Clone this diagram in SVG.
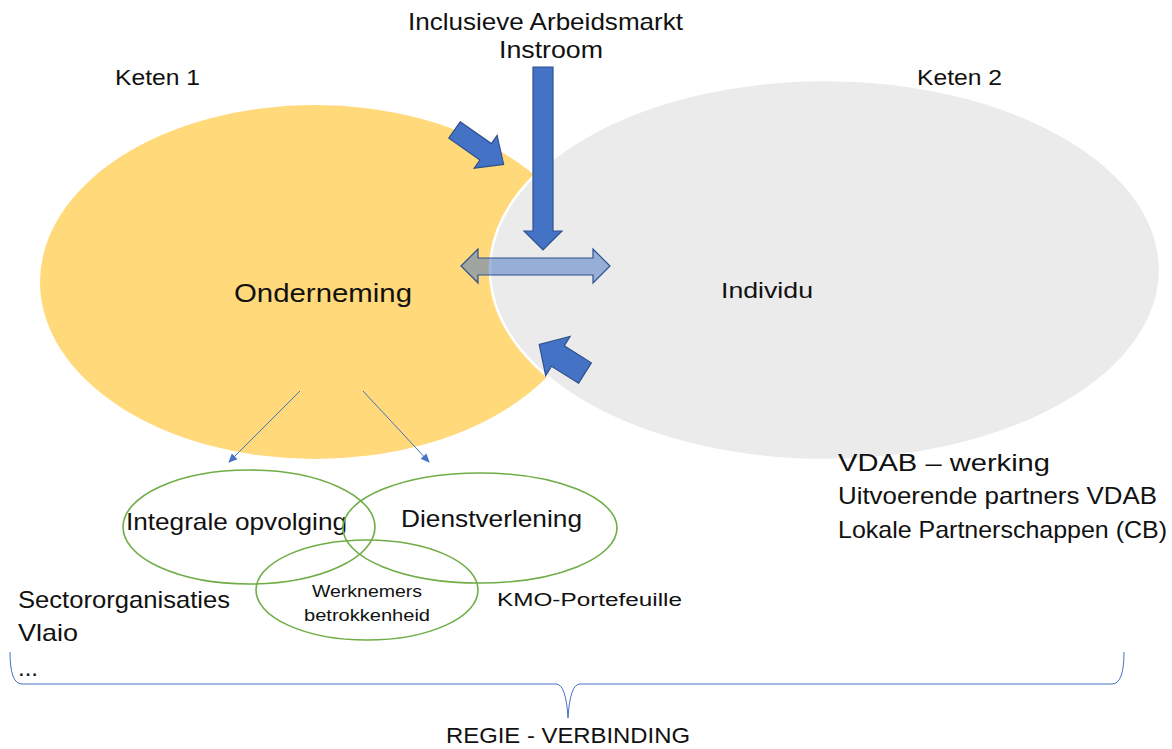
<svg xmlns="http://www.w3.org/2000/svg" width="1172" height="749" viewBox="0 0 1172 749">
<defs>
<style>
text{font-family:"Liberation Sans","Open Sans",sans-serif;fill:#111;}
.t22{font-size:22px}.t24{font-size:24px}.t16{font-size:16px}.t18{font-size:18px}
.blk{fill:#4472C4;stroke:#2F528F;stroke-width:1.2}
.green{fill:none;stroke:#70AD47;stroke-width:1.6}
.thin{stroke:#4472C4;stroke-width:1;fill:none}
</style>
<marker id="ah" markerWidth="10" markerHeight="10" refX="8" refY="5" orient="auto" markerUnits="userSpaceOnUse">
<path d="M0,1 L9,5 L0,9 Z" fill="#4472C4"/>
</marker>
</defs>
<rect width="1172" height="749" fill="#fff"/>

<g id="keten1">
<ellipse cx="315" cy="282" rx="275" ry="177" fill="#FFD97A"/>
</g>
<g id="keten2">
<ellipse cx="825" cy="270" rx="335" ry="190" fill="#EBEBEB" stroke="#fff" stroke-width="2.5"/>
</g>

<g id="connectors">
<path class="blk" d="M533,67 L553,67 L553,231 L562,231 L543,250 L524,231 L533,231 Z"/>
<path class="blk" transform="translate(454.5,130) rotate(35)" d="M0,-10 L38,-10 L38,-20 L60,0 L38,20 L38,10 L0,10 Z"/>
<path class="blk" transform="translate(585,373) rotate(212)" d="M0,-12 L32,-12 L32,-23 L54,0 L32,23 L32,12 L0,12 Z"/>
<path d="M461,266 L478,249 L478,258 L593,258 L593,249 L610,266 L593,283 L593,275 L478,275 L478,283 Z" fill="#4472C4" fill-opacity="0.5" stroke="#2F528F" stroke-width="1.2"/>
<line class="thin" x1="300" y1="391" x2="229" y2="462" marker-end="url(#ah)"/>
<line class="thin" x1="363" y1="391" x2="429" y2="462" marker-end="url(#ah)"/>
<path class="thin" d="M10,652 Q10,684 22,684 L556,684 Q566,684 568,718 Q570,684 580,684 L1112,684 Q1124,684 1124,652"/>
</g>

<g id="integrale">
<ellipse class="green" cx="249" cy="527" rx="126" ry="57"/>
<text class="t24" x="126" y="530" textLength="221" lengthAdjust="spacingAndGlyphs">Integrale opvolging</text>
</g>
<g id="dienstverlening">
<ellipse class="green" cx="480" cy="528" rx="137" ry="55"/>
<text class="t24" x="401" y="527" textLength="181" lengthAdjust="spacingAndGlyphs">Dienstverlening</text>
</g>
<g id="werknemers">
<ellipse class="green" cx="367" cy="590" rx="111" ry="50"/>
<text class="t16" x="312" y="597" textLength="110" lengthAdjust="spacingAndGlyphs">Werknemers</text>
<text class="t16" x="304" y="621" textLength="126" lengthAdjust="spacingAndGlyphs">betrokkenheid</text>
</g>

<g id="labels">
<text class="t24" x="408" y="30" textLength="275" lengthAdjust="spacingAndGlyphs">Inclusieve Arbeidsmarkt</text>
<text class="t24" x="499" y="58" textLength="104" lengthAdjust="spacingAndGlyphs">Instroom</text>
<text class="t22" x="115" y="85" textLength="85" lengthAdjust="spacingAndGlyphs">Keten 1</text>
<text class="t22" x="917" y="85" textLength="85" lengthAdjust="spacingAndGlyphs">Keten 2</text>
<text x="234" y="302" style="font-size:26px" textLength="178" lengthAdjust="spacingAndGlyphs">Onderneming</text>
<text class="t22" x="721" y="298" textLength="92" lengthAdjust="spacingAndGlyphs">Individu</text>
<text class="t18" x="497" y="606" textLength="185" lengthAdjust="spacingAndGlyphs">KMO-Portefeuille</text>
<text class="t24" x="18" y="608" textLength="212" lengthAdjust="spacingAndGlyphs">Sectororganisaties</text>
<text class="t24" x="18" y="641" textLength="60" lengthAdjust="spacingAndGlyphs">Vlaio</text>
<text class="t24" x="18" y="676">...</text>
<text class="t24" x="838" y="471" textLength="212" lengthAdjust="spacingAndGlyphs">VDAB – werking</text>
<text class="t24" x="838" y="504" textLength="319" lengthAdjust="spacingAndGlyphs">Uitvoerende partners VDAB</text>
<text class="t24" x="838" y="538" textLength="329" lengthAdjust="spacingAndGlyphs">Lokale Partnerschappen (CB)</text>
<text class="t22" x="446" y="743" textLength="244" lengthAdjust="spacingAndGlyphs">REGIE - VERBINDING</text>
</g>
</svg>
